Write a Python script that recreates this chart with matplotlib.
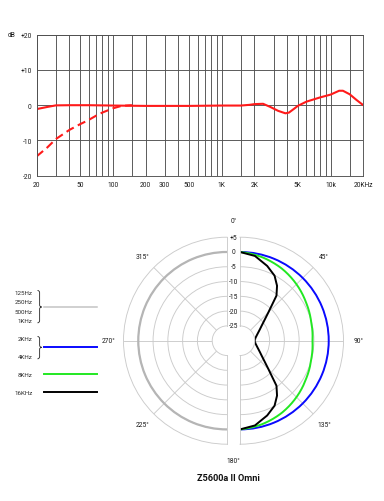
import matplotlib
matplotlib.use("Agg")
import matplotlib.pyplot as plt
import numpy as np
from matplotlib.path import Path
from matplotlib.patches import PathPatch
from matplotlib.ticker import NullFormatter

plt.rcParams['font.family'] = ['Roboto', 'DejaVu Sans']

# ---- frequency response (dB vs Hz)
freq_solid = [20, 25, 30, 40, 60, 100, 200, 500, 1000, 1500, 1800, 2000, 2400,
              2800, 3300, 3850, 4150, 4700, 5000, 6000, 8000, 10000, 12000,
              13000, 15000, 17300, 20000]
db_solid = [-1.1, -0.5, -0.05, 0.0, 0.0, -0.1, -0.2, -0.2, -0.1, -0.1, 0.1, 0.3,
            0.4, -0.5, -1.6, -2.3, -2.1, -0.85, -0.2, 1.0, 2.2, 3.0, 4.1,
            4.1, 3.1, 1.5, 0.0]
freq_dashed = [20, 25, 30, 40, 50, 60, 70, 80, 100, 120, 150]
db_dashed = [-14.5, -12.0, -9.6, -7.0, -5.4, -4.2, -3.0, -2.1, -0.9, -0.2, 0.0]

grid_freqs = [20, 30, 40, 50, 60, 70, 80, 90, 100, 150, 200, 300, 400, 500, 600,
              700, 800, 900, 1000, 1500, 2000, 3000, 4000, 5000, 6000, 7000,
              8000, 9000, 10000, 15000, 20000]
label_freqs = [20, 50, 100, 200, 300, 500, 1000, 2000, 5000, 10000, 20000]
label_texts = ['20', '50', '100', '200', '300', '500', '1K', '2K', '5K', '10k', '20KHz']
db_ticks = [-20, -10, 0, 10, 20]
db_labels = ['-20', '-10', '0', '+10', '+20']

# ---- polar patterns (angle in degrees, level in dB)
ang_black = [0, 10, 20, 28, 34, 39, 45, 50, 55, 60, 70, 80, 90,
             100, 110, 120, 125, 130, 135, 141, 146, 152, 160, 170, 180]
db_black = [0, -0.9, -3.1, -5.1, -7.6, -10.4, -16.4, -19.2, -21.0, -22.2, -23.8, -24.7, -25,
            -24.7, -23.8, -22.2, -21.0, -19.2, -16.4, -10.4, -7.6, -5.1, -3.1, -0.9, 0]
ang_green = [0, 15, 30, 45, 60, 75, 90, 105, 120, 135, 150, 165, 180]
db_green = [0, -0.8, -1.8, -3.0, -4.2, -5.1, -5.5, -5.1, -4.2, -3.0, -1.8, -0.8, 0]
ang_blue = [0, 45, 90, 135, 180]
db_blue = [0, 0, 0, 0, 0]
ang_gray = [180, 225, 270, 315, 360]
db_gray = [0, 0, 0, 0, 0]
ring_ticks = [5, 0, -5, -10, -15, -20, -25]
ring_labels = ['+5', '0', '-5', '-10', '-15', '-20', '-25']
angle_marks = [45, 90, 135, 225, 270, 315]

W, H = 384, 502
TXT = '#1a1a1a'
fig = plt.figure(figsize=(W / 100, H / 100), dpi=100)


def rect(x0, top, w, h):
    return [x0 / W, 1 - (top + h) / H, w / W, h / H]


# ---------------- frequency response
ax = fig.add_axes(rect(36.7, 35.7, 326.6, 141))
ax.set_xscale('log')
ax.plot(freq_solid, db_solid, '-', color='#ff1a1a', lw=1.5, solid_capstyle='round')
ax.plot(freq_dashed, db_dashed, '--', color='#ff1a1a', lw=1.5, dashes=(4, 2.2))
ax.set_xlim(20, 20000)
ax.set_ylim(-20, 20)
ax.set_xticks(label_freqs)
ax.set_xticklabels(label_texts)
ax.set_xticks(grid_freqs, minor=True)
ax.xaxis.set_minor_formatter(NullFormatter())
ax.set_yticks(db_ticks)
ax.set_yticklabels(db_labels)
ax.grid(True, which='both', color='#505050', lw=0.65)
ax.tick_params(which='both', length=0, labelsize=4.8, colors=TXT, pad=3.5)
for s in ax.spines.values():
    s.set_color('#505050')
    s.set_linewidth(0.65)
ax.annotate('dB', xy=(0, 1), xycoords='axes fraction', xytext=(-18, 0),
            textcoords='offset points', ha='center', va='center', fontsize=4.8,
            color=TXT)

# ---------------- polar pattern (two half diagrams, split by a small gap)
R = 103.5
cy = 341.7
# a half wedge is centred inside a square box, so each box is 2R wide
axr = fig.add_axes(rect(240 - R / 2, cy - R, 2 * R, 2 * R), projection='polar')
axl = fig.add_axes(rect(227 - 1.5 * R, cy - R, 2 * R, 2 * R), projection='polar')
for a, lim in ((axr, (0, 180)), (axl, (180, 360))):
    a.set_theta_zero_location('N')
    a.set_theta_direction(-1)
    a.set_thetamin(lim[0])
    a.set_thetamax(lim[1])
    a.set_ylim(-25, 5)
    a.set_rorigin(-30)
    a.set_rgrids([-20, -15, -10, -5, 0])
    a.set_thetagrids([m for m in angle_marks if lim[0] < m < lim[1]])
    a.set_xticklabels([])
    a.set_yticklabels([])
    a.tick_params(length=0)
    a.grid(True, color='#cbcbcb', lw=0.65)
    for s in a.spines.values():
        s.set_color('#cbcbcb')
        s.set_linewidth(0.65)

curves = [
    (axl, ang_gray, db_gray, '#b5b5b5', 1.6),
    (axr, ang_blue, db_blue, '#0a0aff', 1.4),
    (axr, ang_green, db_green, '#22e822', 1.4),
    (axr, ang_black, db_black, 'black', 1.4),
]
for a, ang, lev, col, lw in curves:
    ln, = a.plot(np.deg2rad(ang), lev, color=col, lw=lw)
    if col != 'black':
        ln.get_path()._interpolation_steps = 40

gap = -6.5 * 0.72
for v, t in zip(ring_ticks, ring_labels):
    axr.annotate(t, xy=(0, v), xytext=(gap, 0), textcoords='offset points',
                 ha='center', va='center', fontsize=4.8, color=TXT,
                 annotation_clip=False)
for m in angle_marks:
    a = axr if m < 180 else axl
    a.text(np.deg2rad(m), 10.2, f'{m}°', ha='center', va='center',
           fontsize=4.8, color=TXT, clip_on=False)
axr.annotate('0°', xy=(0, 10.6), xytext=(gap, 0), textcoords='offset points',
             ha='center', va='center', fontsize=4.8, color=TXT,
             annotation_clip=False)
axr.annotate('180°', xy=(np.pi, 10.6), xytext=(gap, 0), textcoords='offset points',
             ha='center', va='center', fontsize=4.8, color=TXT,
             annotation_clip=False)

# ---------------- legend
lax = fig.add_axes(rect(0, 280, 110, 125))
lax.set_xlim(0, 110)
lax.set_ylim(405, 280)
lax.axis('off')


def brace(x, y0, y1, w, ym=None):
    ym = (y0 + y1) / 2 if ym is None else ym
    h = w / 2
    verts = [(x, y0), (x + h, y0), (x + h, y0 + h), (x + h, ym - h),
             (x + h, ym), (x + w, ym),
             (x + w, ym), (x + h, ym), (x + h, ym + h), (x + h, y1 - h),
             (x + h, y1), (x, y1)]
    codes = [Path.MOVETO, Path.CURVE3, Path.CURVE3, Path.LINETO,
             Path.CURVE3, Path.CURVE3,
             Path.MOVETO, Path.CURVE3, Path.CURVE3, Path.LINETO,
             Path.CURVE3, Path.CURVE3]
    lax.add_patch(PathPatch(Path(verts, codes), fill=False, lw=0.65, ec='#333333'))


legend_groups = [
    (['125Hz', '250Hz', '500Hz', '1KHz'], [294, 303, 312.3, 321.3], '#c4c4c4', 308, 1.1),
    (['2KHz', '4KHz'], [340, 357.3], '#0a0aff', 348.3, 1.4),
    (['8KHz'], [375.3], '#22e822', 375.3, 1.4),
    (['16KHz'], [393.3], 'black', 393.3, 1.4),
]
for names, ys, col, yl, lw in legend_groups:
    for n, yy in zip(names, ys):
        lax.text(32.3, yy, n, ha='right', va='center', fontsize=4.5, color='#2a2a2a')
    if len(names) > 1:
        brace(37.5, ys[0] - 2.5, ys[-1] + 2.5, 4.2, yl)
    lax.plot([44.3, 97], [yl, yl], color=col, lw=lw)

fig.text(228.5 / W, 1 - 478.3 / H, 'Z5600a II Omni', ha='center', va='center',
         fontsize=6.6, fontweight='bold', color='#111111')

fig.savefig('out.png', dpi=100)
